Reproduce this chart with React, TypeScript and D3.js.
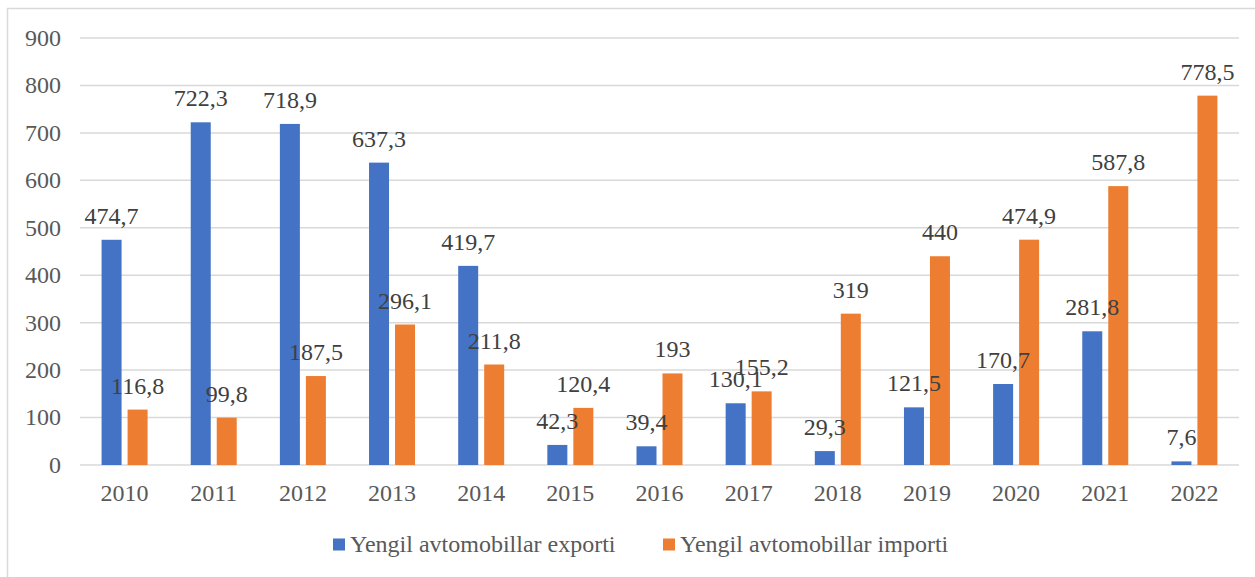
import * as d3 from "d3";
import React from "react";

const years = ["2010", "2011", "2012", "2013", "2014", "2015", "2016", "2017", "2018", "2019", "2020", "2021", "2022"];
const exportValues = [474.7, 722.3, 718.9, 637.3, 419.7, 42.3, 39.4, 130.1, 29.3, 121.5, 170.7, 281.8, 7.6];
const importValues = [116.8, 99.8, 187.5, 296.1, 211.8, 120.4, 193, 155.2, 319, 440, 474.9, 587.8, 778.5];
const seriesNames = ["Yengil avtomobillar exporti", "Yengil avtomobillar importi"];
const seriesColors = ["#4472C4", "#ED7D31"];
const yTicks = [0, 100, 200, 300, 400, 500, 600, 700, 800, 900];

const width = 1255;
const height = 577;
const txt = { fontFamily: '"Liberation Serif"', fontSize: 24 };

export default function App() {
  const left = 80;
  const right = 1239;
  const top = 38;
  const bottom = 465;

  const x = d3.scaleBand().domain(years).range([left, right]).padding(0);
  const barW = 20;
  const gap = 6;
  const x1 = d3
    .scaleBand()
    .domain(["0", "1"])
    .range([0, barW * 2 + gap])
    .paddingInner(gap / (barW + gap))
    .paddingOuter(0);
  const y = d3.scaleLinear().domain([0, 900]).range([bottom, top]);

  const fmt = (v: number) => String(v).replace(".", ",");
  const series = [exportValues, importValues];

  // one entry per bar, reused for rects and labels
  const bars = years.flatMap((yr, i) =>
    series.map((vals, s) => {
      const bx = x(yr)! + (x.bandwidth() - (barW * 2 + gap)) / 2 + x1(String(s))!;
      return { key: `${yr}-${s}`, bx, v: vals[i], s };
    })
  );

  return (
    <div style={{ position: "absolute", left: 0, top: 0 }}>
      <svg width={width} height={height} style={{ display: "block" }}>
        <rect x={0} y={0} width={width} height={height} fill="#fff" />
        <rect x={7.5} y={8.5} width={width + 10} height={height + 10} fill="none" stroke="#d9d9d9" strokeWidth={1.5} />
        {yTicks.map((t) => (
          <g key={t}>
            <line x1={left} x2={right} y1={y(t)} y2={y(t)} stroke="#d9d9d9" strokeWidth={1.5} />
            <text x={61} y={y(t)} dy="0.33em" textAnchor="end" style={txt} fill="#595959">
              {t}
            </text>
          </g>
        ))}
        {bars.map((b) => (
          <rect key={b.key} x={b.bx} y={y(b.v)} width={x1.bandwidth()} height={bottom - y(b.v)} fill={seriesColors[b.s]} />
        ))}
        {bars.map((b) => (
          <text key={b.key} x={b.bx + x1.bandwidth() / 2} y={y(b.v) - 16} textAnchor="middle" style={txt} fill="#404040">
            {fmt(b.v)}
          </text>
        ))}
        {years.map((yr) => (
          <text key={yr} x={x(yr)! + x.bandwidth() / 2} y={501} textAnchor="middle" style={txt} fill="#595959">
            {yr}
          </text>
        ))}
        {seriesNames.map((name, s) => {
          const lx = s === 0 ? 333 : 663;
          return (
            <g key={name}>
              <rect x={lx} y={538.5} width={12} height={12} fill={seriesColors[s]} />
              <text x={lx + 17} y={552} style={txt} fill="#595959">
                {name}
              </text>
            </g>
          );
        })}
      </svg>
    </div>
  );
}
